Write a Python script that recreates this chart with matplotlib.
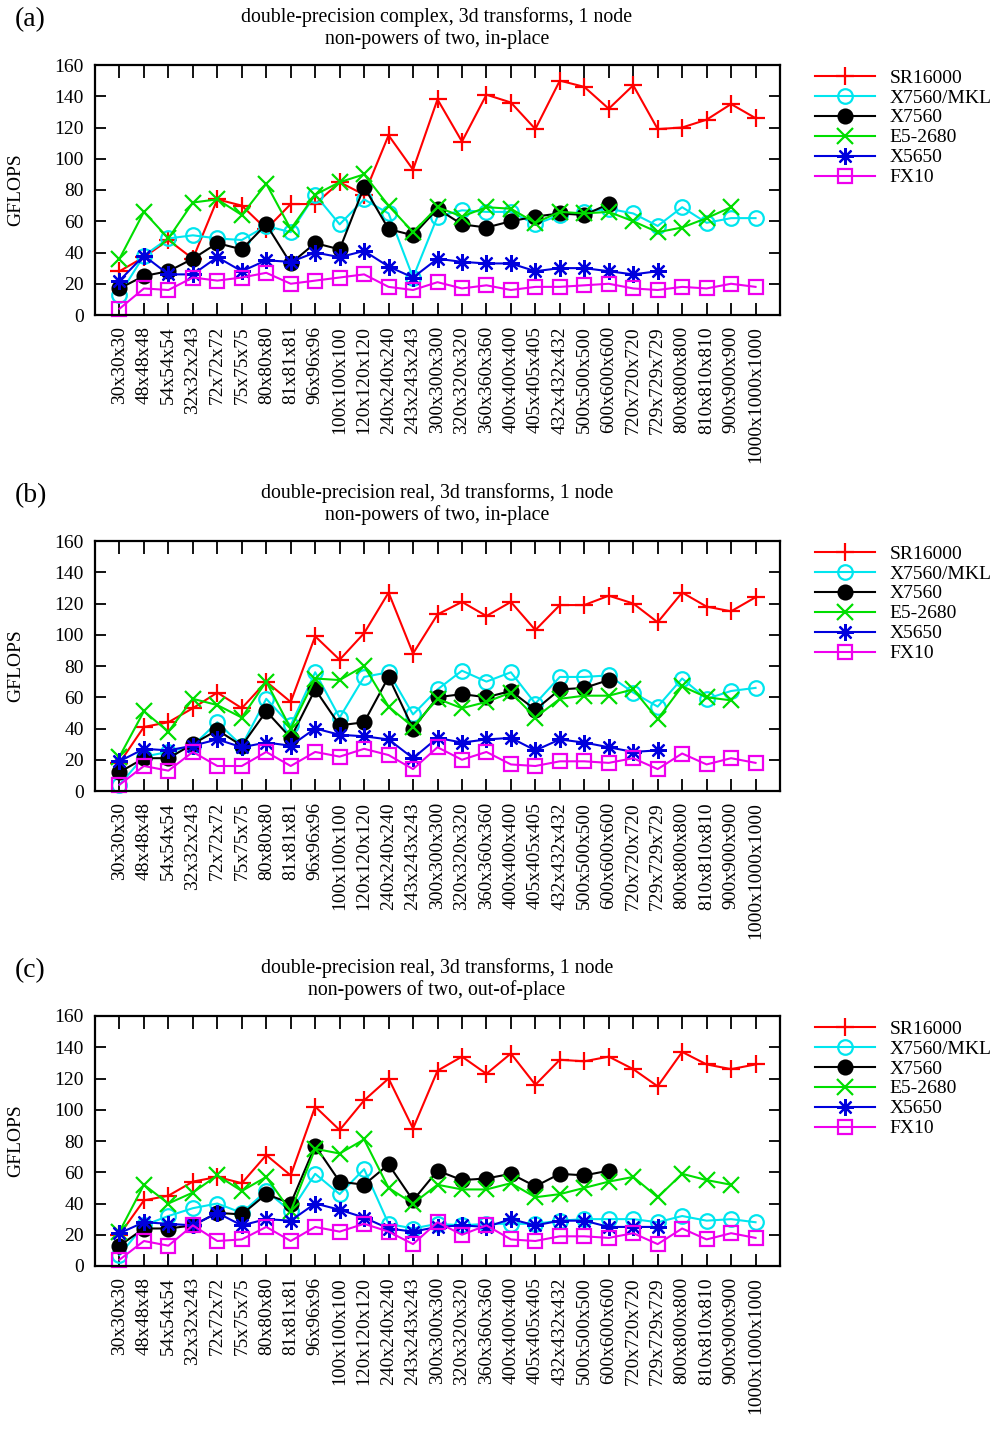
import numpy as np
import matplotlib
matplotlib.use('Agg')
import matplotlib.pyplot as plt

plt.rcParams['font.family'] = ['Liberation Serif', 'DejaVu Serif']

# problem sizes on the x axis
sizes = ['30x30x30', '48x48x48', '54x54x54', '32x32x243', '72x72x72', '75x75x75',
         '80x80x80', '81x81x81', '96x96x96', '100x100x100', '120x120x120',
         '240x240x240', '243x243x243', '300x300x300', '320x320x320', '360x360x360',
         '400x400x400', '405x405x405', '432x432x432', '500x500x500', '600x600x600',
         '720x720x720', '729x729x729', '800x800x800', '810x810x810', '900x900x900',
         '1000x1000x1000']

machines = ['SR16000', 'X7560/MKL', 'X7560', 'E5-2680', 'X5650', 'FX10']

# (a) complex, in-place
a_sr16000 = [28, 37, 48, 36, 74, 70, 55, 71, 71, 85, 77, 115, 93, 138, 111, 141, 136, 119,
             150, 146, 132, 147, 119, 120, 125, 135, 126]
a_x7560mkl = [13, 38, 49, 51, 49, 48, 57, 53, 77, 58, 74, 65, 24, 63, 67, 66, 66, 58, 64,
              66, 68, 65, 57, 69, 59, 62, 62]
a_x7560 = [17, 25, 28, 36, 46, 42, 58, 33, 46, 42, 82, 55, 51, 68, 58, 56, 60, 63, 65, 64, 71]
a_e52680 = [36, 66, 49, 72, 74, 64, 84, 55, 77, 85, 90, 70, 53, 69, 63, 69, 68, 59, 66, 65,
            66, 60, 53, 56, 62, 69]
a_x5650 = [22, 38, 26, 26, 37, 28, 35, 34, 40, 37, 41, 31, 24, 36, 34, 33, 33, 28, 30, 30,
           28, 26, 28]
a_fx10 = [4, 17, 16, 24, 22, 24, 27, 20, 22, 24, 26, 18, 16, 21, 17, 19, 16, 18, 18, 19, 20,
          17, 16, 18, 17, 20, 18]

# (b) real, in-place
b_sr16000 = [18, 41, 44, 53, 63, 53, 70, 57, 99, 84, 101, 127, 88, 113, 121, 112, 121, 103,
             119, 119, 125, 120, 108, 127, 118, 115, 124]
b_x7560mkl = [4, 22, 25, 29, 44, 29, 59, 42, 76, 47, 73, 76, 49, 65, 77, 70, 76, 56, 73, 73,
              74, 63, 54, 72, 59, 64, 66]
b_x7560 = [12, 21, 21, 30, 39, 29, 51, 34, 65, 42, 44, 73, 40, 60, 62, 60, 64, 52, 65, 66, 71]
b_e52680 = [22, 51, 38, 59, 55, 47, 70, 40, 72, 71, 80, 54, 41, 59, 53, 57, 63, 47, 59, 61,
            61, 65, 46, 67, 60, 58]
b_x5650 = [19, 27, 26, 29, 33, 28, 31, 29, 40, 36, 35, 33, 21, 34, 31, 33, 34, 26, 33, 31,
           28, 25, 26]
b_fx10 = [4, 16, 13, 25, 16, 16, 25, 16, 25, 22, 27, 23, 14, 28, 20, 25, 17, 16, 19, 19, 18,
          21, 14, 24, 17, 21, 18]

# (c) real, out-of-place
c_sr16000 = [20, 42, 45, 54, 57, 53, 71, 58, 102, 87, 106, 120, 88, 125, 134, 123, 136, 116,
             132, 131, 134, 126, 115, 137, 129, 126, 129]
c_x7560mkl = [7, 26, 32, 37, 40, 34, 48, 35, 59, 46, 62, 27, 24, 27, 26, 27, 27, 27, 29, 30,
              30, 30, 28, 32, 29, 30, 28]
c_x7560 = [13, 24, 24, 26, 34, 33, 46, 40, 77, 54, 52, 65, 42, 61, 55, 56, 59, 51, 59, 58, 61]
c_e52680 = [22, 52, 40, 47, 58, 48, 57, 35, 75, 72, 81, 50, 40, 52, 49, 49, 53, 44, 46, 50,
            54, 57, 44, 59, 55, 52]
c_x5650 = [21, 28, 27, 26, 34, 26, 30, 29, 40, 36, 31, 24, 22, 25, 26, 25, 30, 26, 29, 29,
           25, 25, 25]
c_fx10 = [4, 16, 13, 26, 16, 17, 25, 16, 25, 22, 27, 22, 14, 28, 20, 26, 17, 16, 19, 19, 18,
          21, 14, 24, 17, 21, 18]

panels = [
    ('(a)', 'double-precision complex, 3d transforms, 1 node\nnon-powers of two, in-place',
     [a_sr16000, a_x7560mkl, a_x7560, a_e52680, a_x5650, a_fx10]),
    ('(b)', 'double-precision real, 3d transforms, 1 node\nnon-powers of two, in-place',
     [b_sr16000, b_x7560mkl, b_x7560, b_e52680, b_x5650, b_fx10]),
    ('(c)', 'double-precision real, 3d transforms, 1 node\nnon-powers of two, out-of-place',
     [c_sr16000, c_x7560mkl, c_x7560, c_e52680, c_x5650, c_fx10]),
]

colors = ['#ff0000', '#00e5ee', '#000000', '#00dd00', '#0000dd', '#ee00ee']
markers = ['+', 'o', 'o', 'x', (8, 2, 0), 's']
faces = ['#ff0000', 'none', '#000000', '#00dd00', '#0000dd', 'none']
msizes = [13, 10.5, 10, 11, 12, 10]

fig = plt.figure(figsize=(10.08, 14.4), dpi=100)
W, H = 1008.0, 1440.0
tops = [65, 541, 1016]

for (tag, title, series), top in zip(panels, tops):
    ax = fig.add_axes([95 / W, 1 - (top + 250) / H, 685 / W, 250 / H])
    for vals, name, c, m, fc, ms in zip(series, machines, colors, markers, faces, msizes):
        x = np.arange(len(vals))
        ax.plot(x, vals, color=c, marker=m, markerfacecolor=fc, markeredgecolor=c,
                markersize=ms, markeredgewidth=1.6, linewidth=1.5, label=name,
                clip_on=False)
    ax.set_xlim(-1, 27)
    ax.set_ylim(0, 160)
    ax.set_yticks(np.arange(0, 161, 20))
    ax.set_xticks(np.arange(len(sizes)))
    ax.set_xticklabels(sizes, rotation=90)
    ax.tick_params(axis='x', direction='in', top=True, length=9, width=1.3,
                   labelsize=14, pad=8)
    ax.tick_params(axis='y', direction='in', right=True, length=8, width=1.3,
                   labelsize=14, pad=8)
    for s in ax.spines.values():
        s.set_linewidth(1.6)
    ax.set_ylabel('GFLOPS', fontsize=14, labelpad=22)
    fig.text(437 / W, 1 - (top - 37) / H, title, ha='center', va='center',
             fontsize=14.3, linespacing=1.08)
    fig.text(15 / W, 1 - (top - 45) / H, tag, ha='left', va='center', fontsize=20)
    ax.legend(loc='upper left', bbox_to_anchor=(815 / W, 1 - (top + 4) / H),
              bbox_transform=fig.transFigure, frameon=False, fontsize=14,
              handlelength=3.1, handletextpad=0.75, labelspacing=0.12,
              borderaxespad=0, borderpad=0)

fig.savefig('out.png', dpi=100)
